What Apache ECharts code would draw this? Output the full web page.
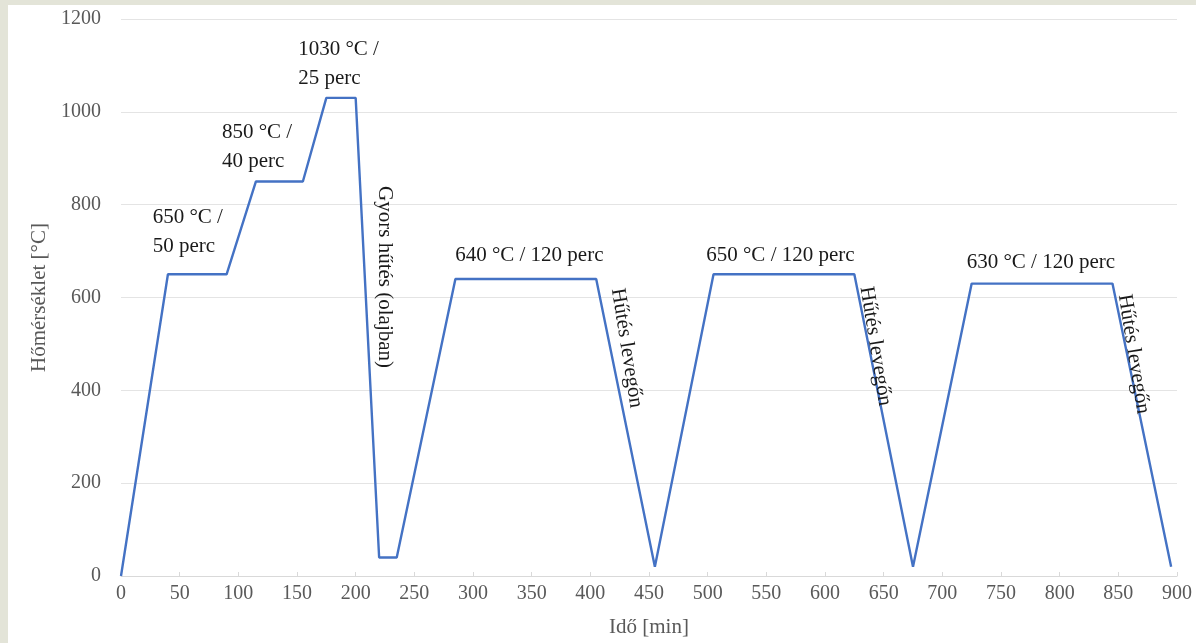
<!DOCTYPE html>
<html>
<head>
<meta charset="utf-8">
<script src="https://cdn.jsdelivr.net/npm/echarts@6/dist/echarts.min.js"></script>
<style>
  html, body { margin: 0; padding: 0; background: #e3e4d8; }
  #main { position: absolute; left: 8px; top: 5px; width: 1188px; height: 638px; background: #fff; }
</style>
</head>
<body>
<div id="main"></div>
<script>
// time [min] and temperature [°C] of the heat treatment profile
let times = [0, 40, 90, 115, 155, 175, 200, 220, 235, 285, 405, 455, 505, 625, 675, 725, 845, 895];
let temps = [0, 650, 650, 850, 850, 1030, 1030, 40, 40, 640, 640, 20, 650, 650, 20, 630, 630, 20];

// annotations (text, anchor in data units, angle)
let noteTexts = ['650 °C /\n50 perc', '850 °C /\n40 perc', '1030 °C /\n25 perc',
  'Gyors hűtés (olajban)', '640 °C / 120 perc', '650 °C / 120 perc', '630 °C / 120 perc',
  'Hűtés levegőn', 'Hűtés levegőn', 'Hűtés levegőn'];
let noteX = [27, 86, 151, 225, 348, 562, 784, 431, 643, 863];
let noteY = [741, 924, 1103, 644, 691, 691, 676, 491, 495, 478];
let noteAngle = [0, 0, 0, -90, 0, 0, 0, -81, -81, -81];
let noteAlign = ['left', 'left', 'left', 'center', 'center', 'center', 'center', 'center', 'center', 'center'];

let myChart = echarts.init(document.getElementById('main'));
let serif = '"Liberation Serif", "Times New Roman", serif';

let points = times.map((t, i) => [t, temps[i]]);
let notes = noteTexts.map((txt, i) => ({
  coord: [noteX[i], noteY[i]],
  value: txt,
  label: { rotate: noteAngle[i], align: noteAlign[i] }
}));

let option = {
  animation: false,
  grid: { left: 113, right: 19, top: 14, bottom: 67 },
  xAxis: {
    type: 'value',
    min: 0,
    max: 900,
    interval: 50,
    name: 'Idő [min]',
    nameLocation: 'middle',
    nameGap: 41,
    nameTextStyle: { fontFamily: serif, fontSize: 21, color: '#595959' },
    axisLine: { lineStyle: { color: '#d9d9d9', width: 1 } },
    axisTick: { show: true, inside: true, length: 4, lineStyle: { color: '#d9d9d9' } },
    axisLabel: { fontFamily: serif, fontSize: 20, color: '#595959', margin: 8 },
    splitLine: { show: false }
  },
  yAxis: {
    type: 'value',
    min: 0,
    max: 1200,
    interval: 200,
    name: 'Hőmérséklet [°C]',
    nameLocation: 'middle',
    nameGap: 70,
    nameTextStyle: { fontFamily: serif, fontSize: 21, color: '#595959' },
    axisLine: { show: false },
    axisTick: { show: false },
    axisLabel: { fontFamily: serif, fontSize: 20, color: '#595959', margin: 20, formatter: v => String(v) },
    splitLine: { lineStyle: { color: '#e4e4e4', width: 1 } }
  },
  series: [
    {
      type: 'line',
      data: points,
      symbol: 'none',
      lineStyle: { color: '#4472c4', width: 2.4 },
      markPoint: {
        symbol: 'circle',
        symbolSize: 0,
        silent: true,
        label: {
          show: true,
          position: 'inside',
          formatter: p => p.value,
          fontFamily: serif,
          fontSize: 21,
          lineHeight: 29,
          color: '#1a1a1a',
          verticalAlign: 'middle'
        },
        data: notes
      }
    }
  ]
};

myChart.setOption(option);
</script>
</body>
</html>
